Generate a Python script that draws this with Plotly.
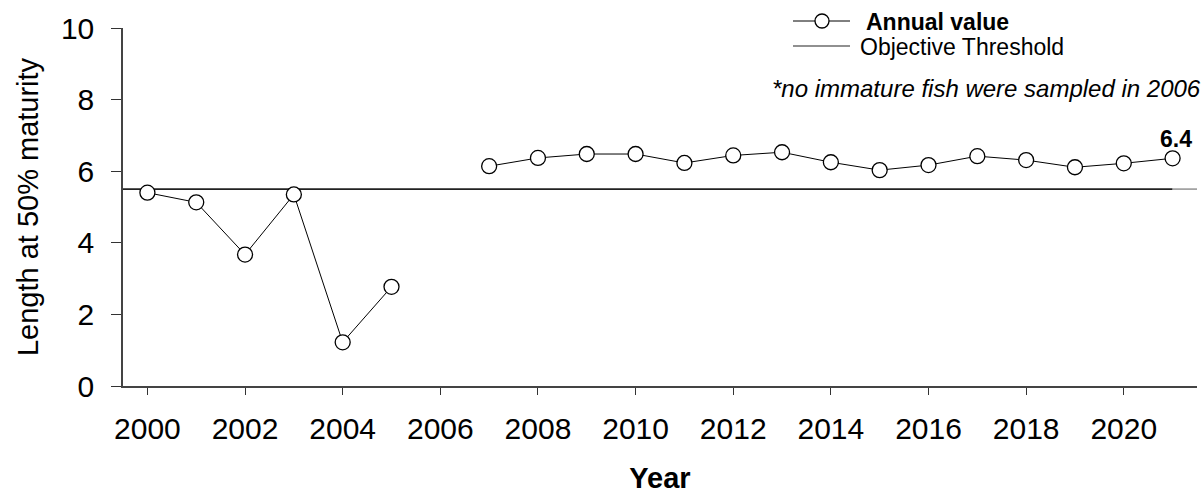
import plotly.graph_objects as go

# ---- data ----
years = list(range(2000, 2022))
annual_value = [5.40, 5.13, 3.67, 5.35, 1.22, 2.77, None,
                6.14, 6.37, 6.48, 6.48, 6.23, 6.44, 6.53, 6.25,
                6.03, 6.17, 6.42, 6.31, 6.11, 6.22, 6.36]
threshold = 5.5
x_range = [1999.5, 2021.5]
y_range = [0, 10]
x_ticks = list(range(2000, 2021, 2))
y_ticks = [0, 2, 4, 6, 8, 10]
note_text = "*no immature fish were sampled in 2006"
series_name = "Annual value"
threshold_name = "Objective Threshold"

FONT = "Liberation Sans, Arial, sans-serif"
W, H = 1202, 494
L, R, T, B = 123, 5, 28, 108
PW, PH = W - L - R, H - T - B


def px_x(p):  # pixel -> paper x
    return (p - L) / PW


def px_y(p):  # pixel -> paper y
    return (H - B - p) / PH


fig = go.Figure()

# threshold line (dark part up to last year, light tail to axis end)
fig.add_trace(go.Scatter(x=[x_range[0], years[-1]], y=[threshold, threshold],
                         mode="lines", line=dict(color="#222222", width=1.6),
                         name=threshold_name, showlegend=False, hoverinfo="skip"))
fig.add_trace(go.Scatter(x=[years[-1], x_range[1]], y=[threshold, threshold],
                         mode="lines", line=dict(color="#999999", width=1.6),
                         showlegend=False, hoverinfo="skip"))

# annual values
fig.add_trace(go.Scatter(x=years, y=annual_value, mode="lines+markers",
                         line=dict(color="black", width=1),
                         marker=dict(symbol="circle", size=15, color="white",
                                     line=dict(color="black", width=1.3)),
                         connectgaps=False, name=series_name, showlegend=False))

# last value label
fig.add_annotation(x=years[-1], y=annual_value[-1], text=f"<b>{annual_value[-1]:.1f}</b>",
                   showarrow=False, xshift=3, yshift=19,
                   font=dict(family=FONT, size=23, color="black"))

# manual legend
shapes = []
ly1, ly2 = 21, 46
shapes.append(dict(type="line", xref="paper", yref="paper",
                   x0=px_x(793), x1=px_x(850), y0=px_y(ly1), y1=px_y(ly1),
                   line=dict(color="black", width=1)))
shapes.append(dict(type="circle", xref="paper", yref="paper",
                   xsizemode="pixel", ysizemode="pixel",
                   xanchor=px_x(822), yanchor=px_y(ly1),
                   x0=-7, x1=7, y0=-7, y1=7,
                   fillcolor="white", line=dict(color="black", width=1.3)))
shapes.append(dict(type="line", xref="paper", yref="paper",
                   x0=px_x(793), x1=px_x(850), y0=px_y(ly2), y1=px_y(ly2),
                   line=dict(color="#222222", width=1.2)))
fig.add_annotation(xref="paper", yref="paper", x=px_x(864), y=px_y(ly1 + 1),
                   text=f"<b>{series_name}</b>", showarrow=False,
                   xanchor="left", yanchor="middle",
                   font=dict(family=FONT, size=23, color="black"))
fig.add_annotation(xref="paper", yref="paper", x=px_x(858), y=px_y(ly2 + 1),
                   text=threshold_name, showarrow=False,
                   xanchor="left", yanchor="middle",
                   font=dict(family=FONT, size=23, color="black"))
fig.add_annotation(xref="paper", yref="paper", x=px_x(1203), y=px_y(89),
                   text=f"<i>{note_text}</i>", showarrow=False,
                   xanchor="right", yanchor="middle",
                   font=dict(family=FONT, size=24, color="black"))

fig.update_layout(
    width=W, height=H,
    margin=dict(l=L, r=R, t=T, b=B, autoexpand=False),
    paper_bgcolor="white", plot_bgcolor="white",
    showlegend=False,
    shapes=shapes,
    font=dict(family=FONT, color="black"),
)

fig.update_xaxes(range=x_range, tickvals=x_ticks, ticks="outside", ticklen=7,
                 tickwidth=1.3, tickcolor="#333333",
                 showline=True, linecolor="#444444", linewidth=2,
                 showgrid=False, zeroline=False,
                 tickfont=dict(family=FONT, size=30, color="black"),
                 ticklabelstandoff=8,
                 title=dict(text="<b>Year</b>", standoff=28,
                            font=dict(family=FONT, size=29, color="black")),
                 automargin=False)
fig.update_yaxes(range=y_range, tickvals=y_ticks, ticks="outside", ticklen=10,
                 tickwidth=1.3, tickcolor="#333333",
                 showline=True, linecolor="#444444", linewidth=1.5,
                 showgrid=False, zeroline=False,
                 tickfont=dict(family=FONT, size=30, color="black"),
                 ticklabelstandoff=11,
                 title=dict(text="Length at 50% maturity", standoff=14,
                            font=dict(family=FONT, size=29, color="black")),
                 automargin=False)

fig.write_html("out.html")
